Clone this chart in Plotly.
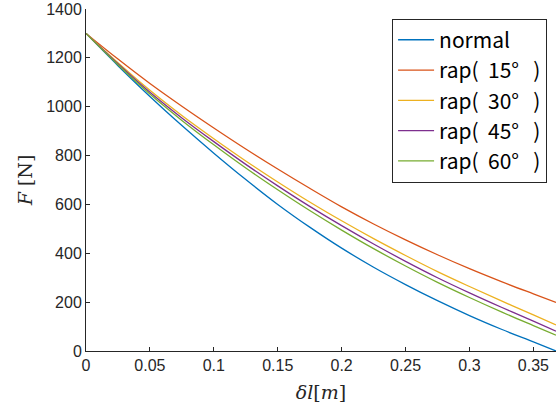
import plotly.graph_objects as go

# Deflection δl [m] at which the force curves are sampled
dl = [0.0, 0.025, 0.05, 0.075, 0.1, 0.125, 0.15, 0.175, 0.2,
      0.225, 0.25, 0.275, 0.3, 0.325, 0.35, 0.3677]

# Force F [N] for each configuration
f_normal = [1300, 1168, 1042, 923, 810, 702, 600, 507, 421,
            343, 272, 206, 145, 89, 37, 0]
f_rap15 = [1300, 1195, 1095, 1002, 913, 827, 745, 666, 590,
           520, 455, 394, 337, 284, 234, 199]
f_rap30 = [1300, 1180, 1067, 964, 869, 778, 692, 610, 533,
           460, 391, 325, 264, 205, 148, 107]
f_rap45 = [1300, 1176, 1059, 954, 857, 764, 676, 592, 513,
           438, 367, 300, 238, 179, 122, 81]
f_rap60 = [1300, 1172, 1052, 944, 844, 749, 660, 575, 495,
           419, 348, 281, 219, 160, 104, 65]

nb = "\u00a0"
series_names = ["normal",
                f"rap({nb}{nb}15°{nb}{nb}{nb})", f"rap({nb}{nb}30°{nb}{nb}{nb})",
                f"rap({nb}{nb}45°{nb}{nb}{nb})", f"rap({nb}{nb}60°{nb}{nb}{nb})"]
series_values = [f_normal, f_rap15, f_rap30, f_rap45, f_rap60]
colors = ["#0072BD", "#D95319", "#EDB120", "#7E2F8E", "#77AC30"]

x_ticks = [0, 0.05, 0.1, 0.15, 0.2, 0.25, 0.3, 0.35]
x_tick_text = ["0", "0.05", "0.1", "0.15", "0.2", "0.25", "0.3", "0.35"]
y_ticks = [0, 200, 400, 600, 800, 1000, 1200, 1400]

fig = go.Figure()
for name, vals, col in zip(series_names, series_values, colors):
    fig.add_trace(go.Scatter(
        x=dl, y=vals, name=name, mode="lines",
        line=dict(color=col, width=1.3, shape="spline", smoothing=1.0),
    ))

axis_color = "#262626"
tick_font = dict(family="Liberation Sans, Arial, sans-serif", size=16, color=axis_color)

fig.update_layout(
    width=556, height=412,
    margin=dict(l=86, r=0, t=9, b=61),
    paper_bgcolor="white", plot_bgcolor="white",
    showlegend=True,
    legend=dict(
        x=0.981, y=0.972, xanchor="right", yanchor="top",
        bgcolor="white", bordercolor=axis_color, borderwidth=1,
        font=dict(family="Noto Sans CJK JP, sans-serif", size=21, color="black"),
        tracegroupgap=0, itemwidth=36,
    ),
    xaxis=dict(
        range=[0, 0.3677], tickvals=x_ticks, ticktext=x_tick_text,
        ticks="inside", ticklen=4, tickcolor=axis_color, tickwidth=1,
        showline=True, linecolor=axis_color, linewidth=1, mirror=False,
        showgrid=False, zeroline=False, tickfont=tick_font,
        title=dict(text="<i>δl</i>[<i>m</i>]", standoff=12,
                   font=dict(family="DejaVu Serif, serif", size=19, color=axis_color)),
    ),
    yaxis=dict(
        range=[0, 1400], tickvals=y_ticks,
        ticks="inside", ticklen=4, tickcolor=axis_color, tickwidth=1,
        showline=True, linecolor=axis_color, linewidth=1, mirror=False,
        showgrid=False, zeroline=False, tickfont=tick_font,
        title=dict(text="<i>F</i> [N]", standoff=8,
                   font=dict(family="DejaVu Serif, serif", size=19, color=axis_color)),
    ),
)

fig.write_html("out.html")
